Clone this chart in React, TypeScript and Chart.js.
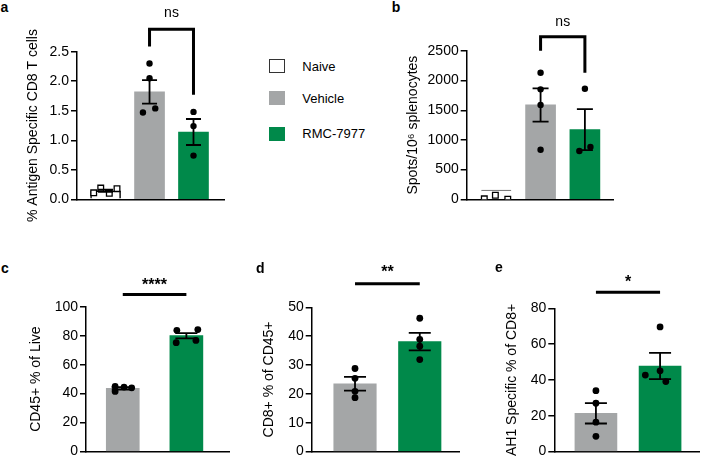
import React, { useEffect, useRef } from 'react';
import { Chart, registerables } from 'chart.js';

Chart.register(...registerables);

const FONT = "'Liberation Sans', Arial, Helvetica, sans-serif";
const GRAY = '#a4a6a7';
const GREEN = '#00894a';
const WHITE = '#ffffff';

// ---------- data ----------
const topGroups = ['Naive', 'Vehicle', 'RMC-7977'];
const bottomGroups = ['Vehicle', 'RMC-7977'];

// panel a: % Antigen Specific CD8 T cells
const aMeans = [0.145, 1.82, 1.14];
const aSems = [0.02, 0.2, 0.22];
const aPoints = [[0.11, 0.19, 0.1, 0.18], [2.3, 2.05, 1.47, 1.54], [1.48, 1.24, 0.74]];
const aJitter = [[-0.27, -0.11, 0.085, 0.26], [0, 0, -0.15, 0.13], [0, 0, 0]];

// panel b: Spots/10^6 splenocytes
const bMeans = [157, 1590, 1175];
const bSems = [0, 280, 345];
const bPoints = [[8, 69, 2], [2131, 1852, 1588, 835], [1862, 813, 880]];
const bJitter = [[-0.27, -0.02, 0.26], [0, 0, 0, 0], [0, -0.125, 0.125]];

// panel c: CD45+ % of Live
const cMeans = [43.6, 80];
const cSems = [0.8, 1.8];
const cPoints = [[45, 44.5, 44, 41.5], [83.7, 84.2, 75.2, 76.7]];
const cJitter = [[-0.12, 0.02, 0.14, -0.12], [-0.15, 0.18, -0.16, 0.15]];

// panel d: CD8+ % of CD45+
const dMeans = [23.5, 38.1];
const dSems = [2.4, 3.05];
const dPoints = [[28.8, 25.4, 20.9, 18.7], [46.2, 38.9, 36.5, 31.9]];
const dJitter = [[0, 0, 0, 0], [0, 0, 0, 0]];

// panel e: AH1 Specific % of CD8+
const eMeans = [21.4, 47.8];
const eSems = [5.7, 7.3];
const ePoints = [[34, 27, 16.4, 8.5], [69.6, 45.1, 42.7, 39.1]];
const eJitter = [[0, 0, 0, 0], [0, 0, -0.23, 0.09]];

// y axis ranges [max, step, decimals]
const aAxis = [2.5, 0.5, 1];
const bAxis = [2500, 500, 0];
const cAxis = [100, 20, 0];
const dAxis = [50, 10, 0];
const eAxis = [80, 20, 0];

// significance annotations
const aSig = { label: 'ns', from: 1, to: 2, y: 2.88, labelY: 3.08, legs: [2.59, 1.77] };
const bSig = { label: 'ns', from: 1, to: 2, y: 2737, labelY: 2912, legs: [2502, 2131] };
const cSig = { label: '****', from: 0, to: 1, y: 108.4, labelY: 111.5 };
const dSig = { label: '**', from: 0, to: 1, y: 58.2, labelY: 60.5 };
const eSig = { label: '*', from: 0, to: 1, y: 89.0, labelY: 92.0 };

type Sig = { label: string; from: number; to: number; y: number; labelY: number; legs?: number[] };
type Geo = {
  rowTop: number; titleX: number; axisX: number; axisEnd: number; yTop: number; yZero: number;
  xMin: number; xMax: number; barPx: number; cap: number; dot: number; padBottom: number;
};
type Panel = {
  groups: string[]; means: number[]; sems: number[]; points: number[][]; jitter: number[][];
  axis: number[]; title: string; sig: Sig; geo: Geo; naive: 'box' | 'top' | null;
};

const panels: Panel[] = [
  {
    groups: topGroups, means: aMeans, sems: aSems, points: aPoints, jitter: aJitter, axis: aAxis,
    title: '% Antigen Specific CD8 T cells', sig: aSig, naive: 'box',
    geo: { rowTop: 0, titleX: 33.5, axisX: 77, axisEnd: 227, yTop: 51.7, yZero: 199.3, xMin: -0.65, xMax: 2.71, barPx: 30, cap: 7.5, dot: 3.2, padBottom: 32 },
  },
  {
    groups: topGroups, means: bMeans, sems: bSems, points: bPoints, jitter: bJitter, axis: bAxis,
    title: 'Spots/10\u2076 splenocytes', sig: bSig, naive: 'top',
    geo: { rowTop: 0, titleX: 413, axisX: 466.7, axisEnd: 616, yTop: 50.9, yZero: 199.3, xMin: -0.667, xMax: 2.65, barPx: 30, cap: 8, dot: 3.2, padBottom: 12 },
  },
  {
    groups: bottomGroups, means: cMeans, sems: cSems, points: cPoints, jitter: cJitter, axis: cAxis,
    title: 'CD45+ % of Live', sig: cSig, naive: null,
    geo: { rowTop: 250, titleX: 36.2, axisX: 86, axisEnd: 230, yTop: 306.7, yZero: 454.3, xMin: -0.578, xMax: 1.67, barPx: 33, cap: 11, dot: 3.4, padBottom: 7.7 },
  },
  {
    groups: bottomGroups, means: dMeans, sems: dSems, points: dPoints, jitter: dJitter, axis: dAxis,
    title: 'CD8+ % of CD45+', sig: dSig, naive: null,
    geo: { rowTop: 250, titleX: 268.7, axisX: 311.7, axisEnd: 460, yTop: 307.3, yZero: 454.3, xMin: -0.669, xMax: 1.606, barPx: 42.5, cap: 11, dot: 3.4, padBottom: 7.7 },
  },
  {
    groups: bottomGroups, means: eMeans, sems: eSems, points: ePoints, jitter: eJitter, axis: eAxis,
    title: 'AH1 Specific % of CD8+', sig: eSig, naive: null,
    geo: { rowTop: 250, titleX: 511.7, axisX: 554.3, axisEnd: 700, yTop: 308.3, yZero: 455, xMin: -0.649, xMax: 1.607, barPx: 42, cap: 11, dot: 3.4, padBottom: 7 },
  },
];

const colorFor = (g: string) => (g === 'Naive' ? WHITE : g === 'Vehicle' ? GRAY : GREEN);

const TITLE_SIZE = 14;
const TITLE_HALF = (TITLE_SIZE * 1.2) / 2;
const PAD_RIGHT = 3;

function makeExtras(p: Panel) {
  return {
    id: 'panelExtras',
    afterDatasetsDraw(chart: any) {
      const { ctx } = chart;
      const x = chart.scales.x;
      const y = chart.scales.y;
      ctx.save();
      ctx.strokeStyle = '#000';
      ctx.lineWidth = 1.8;
      p.means.forEach((m, i) => {
        const s = p.sems[i];
        if (!s) return;
        const cx = x.getPixelForValue(i);
        const t = y.getPixelForValue(m + s);
        const b = y.getPixelForValue(Math.max(0, m - s));
        ctx.beginPath();
        ctx.moveTo(cx, t);
        ctx.lineTo(cx, b);
        ctx.moveTo(cx - p.geo.cap, t);
        ctx.lineTo(cx + p.geo.cap, t);
        ctx.moveTo(cx - p.geo.cap, b);
        ctx.lineTo(cx + p.geo.cap, b);
        ctx.stroke();
      });
      const sg = p.sig;
      const x0 = x.getPixelForValue(sg.from);
      const x1 = x.getPixelForValue(sg.to);
      const yl = y.getPixelForValue(sg.y);
      ctx.lineWidth = 3;
      ctx.lineJoin = 'miter';
      ctx.beginPath();
      if (sg.legs) {
        ctx.moveTo(x0, y.getPixelForValue(sg.legs[0]));
        ctx.lineTo(x0, yl);
        ctx.lineTo(x1, yl);
        ctx.lineTo(x1, y.getPixelForValue(sg.legs[1]));
      } else {
        ctx.moveTo(x0, yl);
        ctx.lineTo(x1, yl);
      }
      ctx.stroke();
      const isStar = sg.label.indexOf('*') >= 0;
      ctx.fillStyle = '#000';
      ctx.font = (isStar ? 'bold 16px ' : '14px ') + FONT;
      ctx.textAlign = 'center';
      ctx.textBaseline = 'alphabetic';
      ctx.fillText(sg.label, (x0 + x1) / 2, y.getPixelForValue(sg.labelY));
      ctx.restore();
    },
  };
}

function PanelChart({ p }: { p: Panel }) {
  const ref = useRef<HTMLCanvasElement | null>(null);
  const g = p.geo;
  const exactLeft = g.titleX - TITLE_HALF;
  const left = Math.floor(exactLeft);
  const padLeft = exactLeft - left;
  const yWidth = g.axisX - exactLeft;
  const width = Math.ceil(g.axisEnd - left + PAD_RIGHT);
  const padRight = width - (g.axisEnd - left);
  const top = g.rowTop;
  const height = Math.ceil(g.yZero + g.padBottom - top);
  const padBottom = height - (g.yZero - top);

  useEffect(() => {
    if (!ref.current) return;
    const [yMax, yStep, dec] = p.axis;
    const barColors = p.groups.map(colorFor);
    const borderWidths = p.groups.map((gname) => {
      if (gname !== 'Naive') return 0;
      if (p.naive === 'box') return { top: 1.5, left: 1.5, right: 1.5, bottom: 0 };
      return { top: 1, left: 0, right: 0, bottom: 0 };
    });
    const borderColors = p.groups.map((gname) => (gname === 'Naive' ? (p.naive === 'box' ? '#000' : '#555') : 'rgba(0,0,0,0)'));
    const datasets: any[] = [
      {
        type: 'bar',
        label: 'mean',
        data: p.means.map((m, i) => ({ x: i, y: m })),
        backgroundColor: barColors,
        borderColor: borderColors,
        borderWidth: (ctx: any) => borderWidths[ctx.dataIndex],
        borderSkipped: false,
        barThickness: g.barPx,
        order: 3,
      },
      ...p.points.map((pts, i) => {
        const naive = p.groups[i] === 'Naive';
        return {
          type: 'scatter',
          label: p.groups[i],
          data: pts.map((v, j) => ({ x: i + p.jitter[i][j], y: v })),
          pointStyle: naive ? 'rect' : 'circle',
          pointRadius: naive ? 4 : g.dot,
          pointBackgroundColor: naive ? WHITE : '#000',
          pointBorderColor: '#000',
          pointBorderWidth: naive ? 1.3 : 0,
          showLine: false,
          order: 1,
        };
      }),
    ];
    const chart = new Chart(ref.current, {
      type: 'bar',
      data: { datasets },
      options: {
        animation: false,
        responsive: false,
        maintainAspectRatio: false,
        devicePixelRatio: 1,
        layout: { padding: { left: padLeft, right: padRight, top: g.yTop - top, bottom: padBottom } },
        plugins: { legend: { display: false }, tooltip: { enabled: false } },
        scales: {
          x: {
            type: 'linear',
            min: g.xMin,
            max: g.xMax,
            offset: false,
            ticks: { display: false },
            grid: { display: false },
            border: { display: true, color: '#000', width: 1.5 },
            afterFit: (s: any) => { s.height = 0; },
          },
          y: {
            type: 'linear',
            min: 0,
            max: yMax,
            ticks: {
              stepSize: yStep,
              color: '#000',
              padding: 2,
              font: { family: FONT, size: 14 },
              callback: (v: any) => (dec ? Number(v).toFixed(dec) : String(v)),
            },
            grid: { drawOnChartArea: false, drawTicks: true, tickLength: 6, color: '#000', lineWidth: 1.5 },
            border: { display: true, color: '#000', width: 1.5 },
            title: { display: true, text: p.title, color: '#000', padding: 0, font: { family: FONT, size: TITLE_SIZE } },
            afterFit: (s: any) => { s.width = yWidth; },
          },
        },
      } as any,
      plugins: [makeExtras(p)],
    });
    return () => chart.destroy();
  }, []);

  return (
    <canvas
      ref={ref}
      width={width}
      height={height}
      style={{ position: 'absolute', left, top, width, height }}
    />
  );
}

const legendItems = [
  { label: 'Naive', color: WHITE, border: '1px solid #333', sqTop: 58.5, textTop: 59.1 },
  { label: 'Vehicle', color: GRAY, border: 'none', sqTop: 91, textTop: 90.5 },
  { label: 'RMC-7977', color: GREEN, border: 'none', sqTop: 126.7, textTop: 126.2 },
];

const panelLetters = [
  { t: 'a', left: 0.5, top: -0.9 },
  { t: 'b', left: 391.7, top: -1.2 },
  { t: 'c', left: 1, top: 259.5 },
  { t: 'd', left: 256, top: 259.5 },
  { t: 'e', left: 495, top: 258.9 },
];

export default function App() {
  return (
    <div style={{ position: 'absolute', left: 0, top: 0, width: 704, height: 462, background: '#fff', overflow: 'hidden', fontFamily: FONT }}>
      {panels.map((p, i) => (
        <PanelChart key={i} p={p} />
      ))}
      {legendItems.map((it) => (
        <React.Fragment key={it.label}>
          <div style={{ position: 'absolute', left: 269, top: it.sqTop, width: 16, height: 14, background: it.color, border: it.border, boxSizing: 'border-box' }} />
          <div style={{ position: 'absolute', left: 302.3, top: it.textTop, fontSize: 13, lineHeight: '16px', color: '#000', whiteSpace: 'nowrap' }}>{it.label}</div>
        </React.Fragment>
      ))}
      {panelLetters.map((l) => (
        <div key={l.t} style={{ position: 'absolute', left: l.left, top: l.top, fontSize: 14, lineHeight: '16px', fontWeight: 'bold', color: '#000' }}>{l.t}</div>
      ))}
    </div>
  );
}
